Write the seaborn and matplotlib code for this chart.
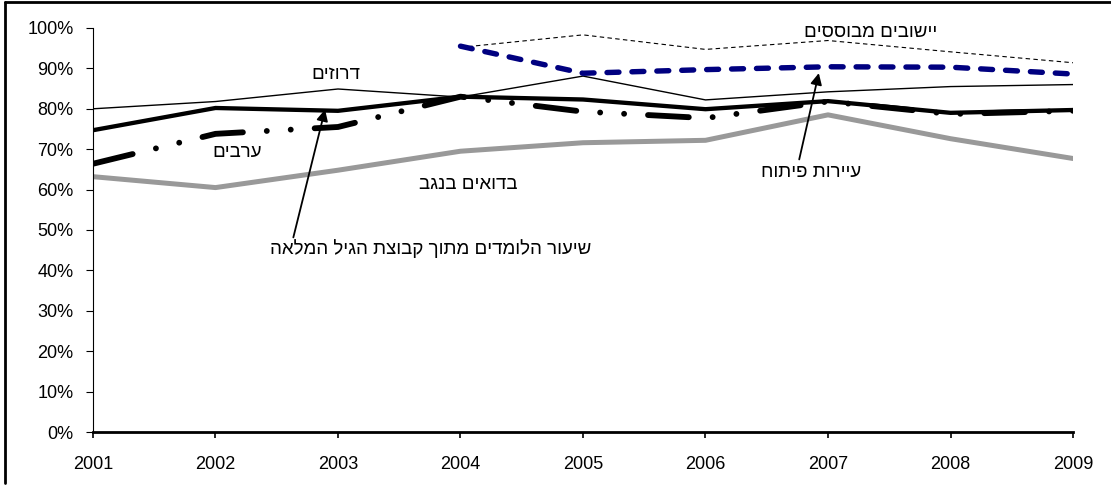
import numpy as np
import pandas as pd
import matplotlib
matplotlib.use("Agg")
import matplotlib.pyplot as plt
from matplotlib.ticker import PercentFormatter
from matplotlib.lines import Line2D
import seaborn as sns

years = [2001, 2002, 2003, 2004, 2005, 2006, 2007, 2008, 2009]
years_late = [2004, 2005, 2006, 2007, 2008, 2009]

# share of learners out of the full age group
druze = [0.80, 0.818, 0.849, 0.829, 0.881, 0.822, 0.842, 0.855, 0.86]
overall = [0.747, 0.802, 0.795, 0.83, 0.823, 0.799, 0.819, 0.79, 0.797]
arabs = [0.664, 0.738, 0.755, 0.83, 0.793, 0.777, 0.818, 0.787, 0.795]
bedouin = [0.632, 0.605, 0.648, 0.695, 0.716, 0.722, 0.785, 0.726, 0.677]
dev_towns = [0.955, 0.888, 0.897, 0.904, 0.903, 0.886]
established = [0.952, 0.983, 0.947, 0.969, 0.941, 0.914]

sns.set_style("white")
plt.rcParams['font.family'] = ['Liberation Sans', 'DejaVu Sans']

fig = plt.figure(figsize=(11.11, 4.86), dpi=100)
ax = fig.add_axes([0.0837, 0.1111, 0.8821, 0.8313])


def heb(s):
    # matplotlib has no bidi, so flip the hebrew text by hand
    return s[::-1]


sns.lineplot(x=years, y=bedouin, ax=ax, color='#999999', lw=3.6,
             solid_capstyle='round', solid_joinstyle='round')
sns.lineplot(x=years, y=druze, ax=ax, color='black', lw=1.0)
sns.lineplot(x=years, y=arabs, ax=ax, color='black', lw=4.2,
             solid_capstyle='round')
ax.lines[-1].set_dashes([7.0, 4.1, 0.01, 4.1, 0.01, 4.1])
ax.lines[-1].set_dash_capstyle('round')
sns.lineplot(x=years, y=overall, ax=ax, color='black', lw=3.1,
             solid_joinstyle='round')
sns.lineplot(x=years_late, y=established, ax=ax, color='black', lw=0.8)
ax.lines[-1].set_dashes([4, 3])
sns.lineplot(x=years_late, y=dev_towns, ax=ax, color='#000080', lw=3.9)
ax.lines[-1].set_dashes([2.2, 2.4])
ax.lines[-1].set_dash_capstyle('round')

ax.set_xlim(2001, 2009)
ax.set_ylim(0, 1)
ax.set_xticks(years)
ax.set_xticklabels([str(y) for y in years])
ax.set_yticks(np.arange(0, 1.01, 0.1))
ax.yaxis.set_major_formatter(PercentFormatter(1.0, decimals=0))

for s in ['top', 'right']:
    ax.spines[s].set_visible(False)
ax.spines['left'].set_color('black')
ax.spines['left'].set_linewidth(0.8)
ax.spines['bottom'].set_color('black')
ax.spines['bottom'].set_linewidth(2.0)
ax.tick_params(axis='y', which='major', left=True, length=5, width=0.8,
               direction='out', pad=9, labelsize=13, colors='black')
ax.tick_params(axis='x', which='major', bottom=True, length=4, width=1.2,
               direction='out', pad=13, labelsize=13, colors='black')
ax.grid(False)

tfont = dict(fontsize=13.5, color='black', ha='center', va='center')
ax.text(2002.98, 0.885, heb("דרוזים"), **tfont)
ax.text(2002.18, 0.693, heb("ערבים"), **tfont)
ax.text(2004.06, 0.613, heb("בדואים בנגב"), **tfont)
ax.text(2007.35, 0.99, heb("יישובים מבוססים"), **tfont)
ax.text(2006.86, 0.643, heb("עיירות פיתוח"), **tfont)
ax.text(2003.76, 0.455, heb("שיעור הלומדים מתוך קבוצת הגיל המלאה"), **tfont)

arrow = dict(arrowstyle='-|>', color='black', lw=1.3, mutation_scale=17)
ax.annotate('', xy=(2002.9, 0.805), xytext=(2002.63, 0.475), arrowprops=arrow)
ax.annotate('', xy=(2006.93, 0.895), xytext=(2006.76, 0.668), arrowprops=arrow)

# frame lines along the left and top edge of the picture
fig.add_artist(Line2D([5 / 1111, 5 / 1111], [1 - 2 / 486, 1 - 483 / 486],
                      transform=fig.transFigure, color='black', lw=2))
fig.add_artist(Line2D([5 / 1111, 1], [1 - 2 / 486, 1 - 2 / 486],
                      transform=fig.transFigure, color='black', lw=2))

fig.savefig('out.png', dpi=100)
